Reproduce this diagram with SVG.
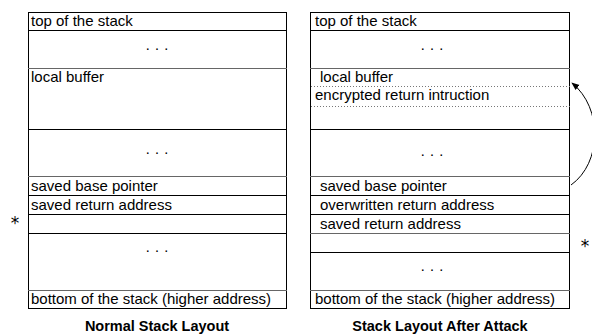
<svg xmlns="http://www.w3.org/2000/svg" width="592" height="335" viewBox="0 0 592 335">
<defs>
<style>
.t{font-family:"Liberation Sans",Arial,sans-serif;font-size:15px;fill:#000}
.d{font-family:"Liberation Sans",Arial,sans-serif;font-size:15px;fill:#000;text-anchor:middle}
.h{font-family:"Liberation Sans",Arial,sans-serif;font-size:14.5px;font-weight:bold;fill:#000;text-anchor:middle}
.s{font-family:"DejaVu Sans",sans-serif;font-size:17px;fill:#000;text-anchor:middle}
.b{fill:none;stroke:#000;stroke-width:1}
.l{stroke:#000;stroke-width:1}
.g{stroke:#666;stroke-width:1}
.dot{stroke:#777;stroke-width:1;stroke-dasharray:1,2}
</style>
<marker id="ah" viewBox="0 0 10 10" refX="9" refY="5" markerWidth="8" markerHeight="8" orient="auto" markerUnits="userSpaceOnUse">
<path d="M0,1 L10,5 L0,9 z" fill="#000"/>
</marker>
</defs>
<rect width="592" height="335" fill="#fff"/>
<g id="normal">
<rect class="b" x="28.5" y="12.5" width="258" height="296"/>
<line class="l" x1="28" y1="30.5" x2="287" y2="30.5"/>
<line class="g" x1="28" y1="68.5" x2="287" y2="68.5"/>
<line class="l" x1="28" y1="129.5" x2="287" y2="129.5"/>
<line class="g" x1="28" y1="176.5" x2="287" y2="176.5"/>
<line class="l" x1="28" y1="195.5" x2="287" y2="195.5"/>
<line class="l" x1="28" y1="214.5" x2="287" y2="214.5"/>
<line class="l" x1="28" y1="233.5" x2="287" y2="233.5"/>
<line class="g" x1="28" y1="290.5" x2="287" y2="290.5"/>
<text class="t" x="31" y="26">top of the stack</text>
<text class="d" x="157" y="53">· · ·</text>
<text class="t" x="31" y="82">local buffer</text>
<text class="d" x="157" y="157">· · ·</text>
<text class="t" x="31" y="191">saved base pointer</text>
<text class="t" x="31" y="210">saved return address</text>
<text class="d" x="157" y="255">· · ·</text>
<text class="t" x="31" y="304">bottom of the stack (higher address)</text>
<text class="s" x="15" y="229">*</text>
<text class="h" x="157" y="331">Normal Stack Layout</text>
</g>
<g id="attack">
<rect class="b" x="310.5" y="12.5" width="259" height="296"/>
<line class="l" x1="310" y1="30.5" x2="570" y2="30.5"/>
<line class="g" x1="310" y1="68.5" x2="570" y2="68.5"/>
<line class="dot" x1="311" y1="86.5" x2="570" y2="86.5"/>
<line class="dot" x1="311" y1="106.5" x2="570" y2="106.5"/>
<line class="l" x1="310" y1="129.5" x2="570" y2="129.5"/>
<line class="g" x1="310" y1="176.5" x2="570" y2="176.5"/>
<line class="l" x1="310" y1="195.5" x2="570" y2="195.5"/>
<line class="l" x1="310" y1="214.5" x2="570" y2="214.5"/>
<line class="g" x1="310" y1="233.5" x2="570" y2="233.5"/>
<line class="l" x1="310" y1="252.5" x2="570" y2="252.5"/>
<line class="g" x1="310" y1="290.5" x2="570" y2="290.5"/>
<text class="t" x="315" y="26">top of the stack</text>
<text class="d" x="432" y="53">· · ·</text>
<text class="t" x="320" y="82">local buffer</text>
<text class="t" x="315" y="100">encrypted return intruction</text>
<text class="d" x="432" y="159">· · ·</text>
<text class="t" x="320" y="191">saved base pointer</text>
<text class="t" x="320" y="210">overwritten return address</text>
<text class="t" x="320" y="229">saved return address</text>
<text class="d" x="432" y="274">· · ·</text>
<text class="t" x="315" y="304">bottom of the stack (higher address)</text>
<text class="s" x="585" y="252">*</text>
<text class="h" x="440" y="331">Stack Layout After Attack</text>
</g>
<g id="connectors">
<path d="M571,185 C602,163 603,108 572,83" fill="none" stroke="#000" stroke-width="1" marker-end="url(#ah)"/>
</g>
</svg>
